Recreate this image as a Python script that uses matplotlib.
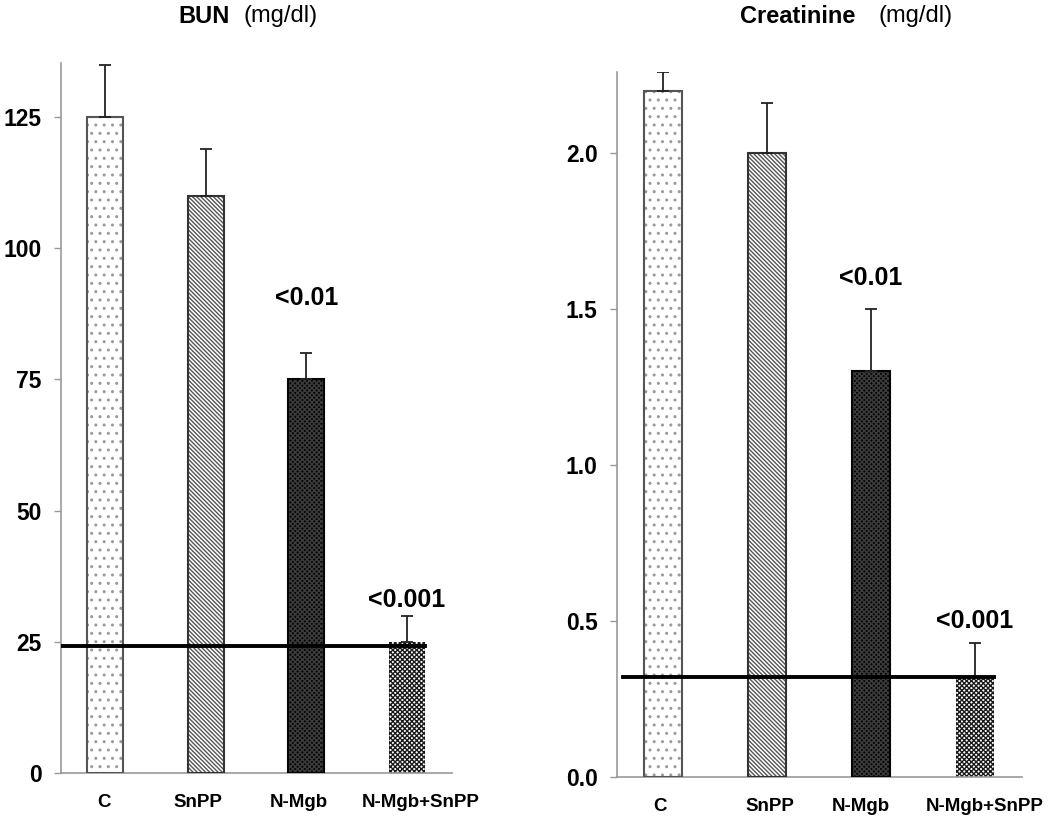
import numpy as np
import matplotlib
matplotlib.use("Agg")
import matplotlib.pyplot as plt
from matplotlib.transforms import ScaledTranslation

plt.rcParams['font.family'] = ['Liberation Sans', 'DejaVu Sans']
plt.rcParams['hatch.linewidth'] = 1.0

groups = ['C', 'SnPP', 'N-Mgb', 'N-Mgb+SnPP']

bun = [125, 110, 75, 25]
bun_err = [10, 9, 5, 5]
bun_ref = 24.2
bun_p = {2: ('<0.01', 90.5), 3: ('<0.001', 33)}

creat = [2.2, 2.0, 1.3, 0.32]
creat_err = [0.06, 0.16, 0.2, 0.11]
creat_ref = 0.32
creat_p = {2: ('<0.01', 1.6), 3: ('<0.001', 0.5)}

# face, hatch, hatch colour, outline colour
styles = [
    ('white', '..', '#9a9a9a', '#555555'),
    ('white', '\\' * 8, '#555555', '#333333'),
    ('#050505', 'x' * 7, '#3c3c3c', '#050505'),
    ('white', 'x' * 7, '#1a1a1a', 'none'),
]

fig = plt.figure(figsize=(10.5, 8.25), dpi=100)
ax1 = fig.add_axes([0.0581, 0.0630, 0.3724, 0.8606])
ax2 = fig.add_axes([0.5876, 0.0582, 0.3857, 0.8545])


def panel(ax, vals, errs, ref, pvals, ylim, ticks, ticklabels, ref_x0, shifts):
    x = np.arange(len(groups))
    for i, v in enumerate(vals):
        face, hatch, hc, oc = styles[i]
        ax.bar(x[i], v, width=0.36, color=face, edgecolor=hc, hatch=hatch,
               linewidth=0, zorder=2)
        if oc != 'none':
            ax.bar(x[i], v, width=0.36, color='none', edgecolor=oc,
                   linewidth=1.5, zorder=3)
    ax.errorbar(x, vals, yerr=[np.zeros(len(vals)), errs], fmt='none',
                ecolor='#222222', elinewidth=1.3, capsize=4, capthick=1.3,
                zorder=4)
    ax.plot([ref_x0, 3.18], [ref, ref], color='black', lw=2.8, zorder=5)
    for i, (txt, yy) in pvals.items():
        ax.text(x[i], yy, txt, ha='center', va='center', fontsize=18,
                fontweight='bold')
    ax.set_xlim(-0.44, 3.45)
    ax.set_ylim(*ylim)
    ax.set_yticks(ticks)
    ax.set_yticklabels(ticklabels, fontsize=16.5, fontweight='bold')
    ax.set_xticks(x)
    ax.set_xticklabels([])
    # group labels are not exactly centred under the bars in the original
    base = ax.get_xaxis_transform()
    for i, (name, dx) in enumerate(zip(groups, shifts)):
        tr = base + ScaledTranslation(dx / 100, -0.21, fig.dpi_scale_trans)
        ax.text(x[i], 0, name, transform=tr, ha='center', va='top',
                fontsize=13.5, fontweight='bold')
    ax.tick_params(axis='x', length=0)
    ax.tick_params(axis='y', length=5, width=1, color='#999999', pad=9)
    for s in ['top', 'right']:
        ax.spines[s].set_visible(False)
    for s in ['left', 'bottom']:
        ax.spines[s].set_color('#999999')
        ax.spines[s].set_linewidth(1.2)
    ax.spines['left'].set_zorder(1)


panel(ax1, bun, bun_err, bun_ref, bun_p, (0, 135.3),
      [0, 25, 50, 75, 100, 125], ['0', '25', '50', '75', '100', '125'], -0.44,
      [-1, -8, -7, 14])
panel(ax2, creat, creat_err, creat_ref, creat_p, (0, 2.26),
      [0, 0.5, 1.0, 1.5, 2.0], ['0.0', '0.5', '1.0', '1.5', '2.0'], -0.385,
      [-3, 3, -10, 10])

fig.text(0.170, 0.994, 'BUN', fontsize=17, fontweight='bold', va='top')
fig.text(0.232, 0.994, '(mg/dl)', fontsize=17, va='top')
fig.text(0.705, 0.994, 'Creatinine', fontsize=17, fontweight='bold', va='top')
fig.text(0.837, 0.994, '(mg/dl)', fontsize=17, va='top')

fig.savefig('out.png', dpi=100)
